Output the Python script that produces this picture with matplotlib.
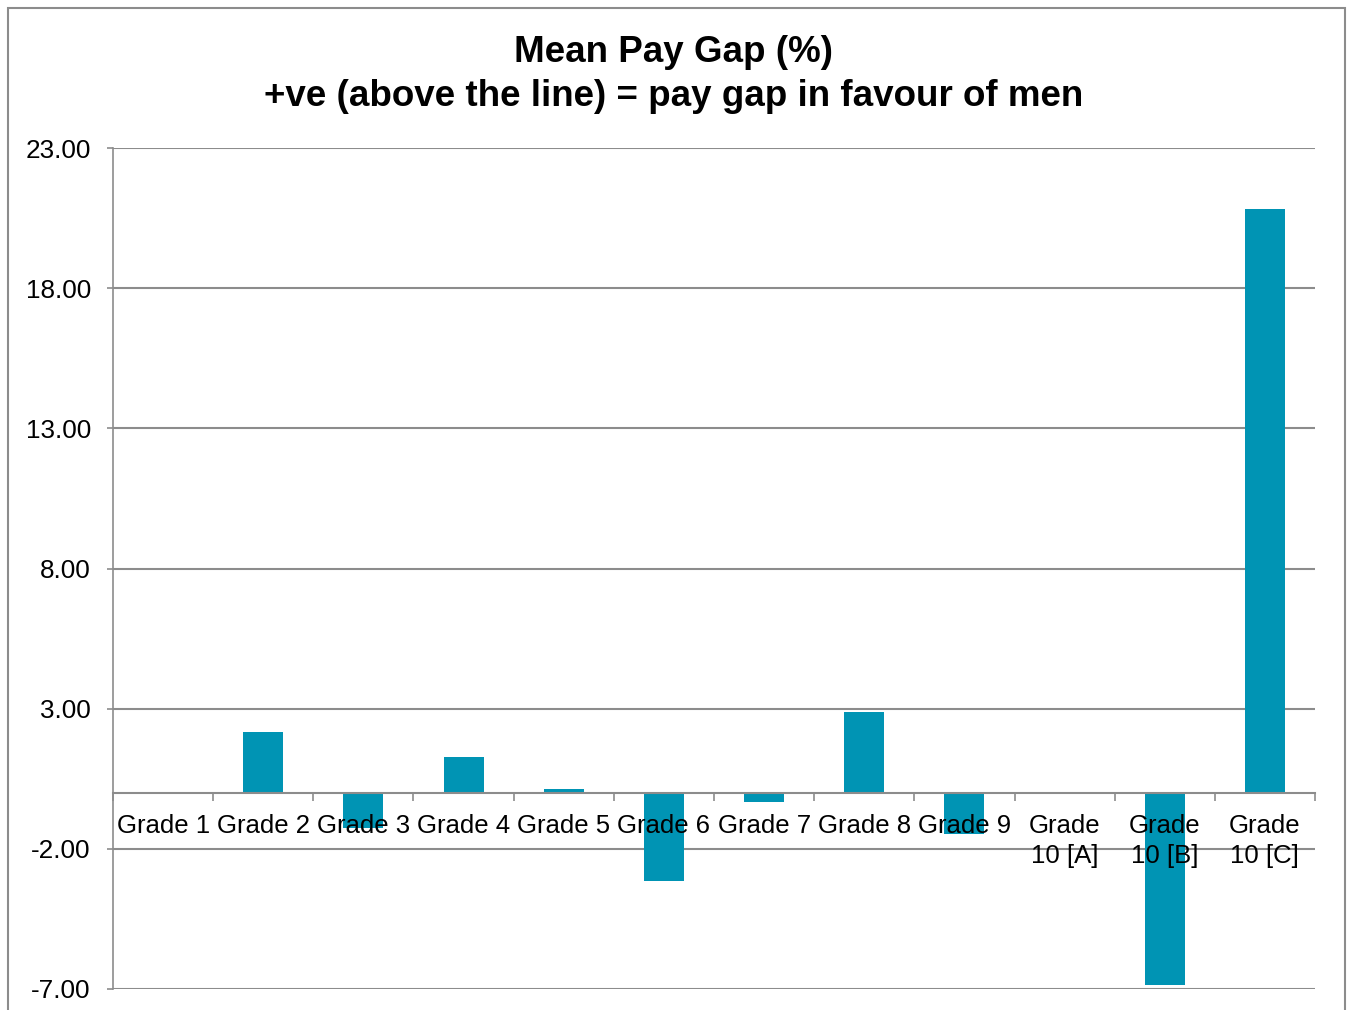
import matplotlib
matplotlib.use("Agg")
import matplotlib.pyplot as plt
from matplotlib.patches import Rectangle
import numpy as np

plt.rcParams['font.family'] = ['Liberation Sans', 'DejaVu Sans']

categories = ["Grade 1", "Grade 2", "Grade 3", "Grade 4", "Grade 5", "Grade 6",
              "Grade 7", "Grade 8", "Grade 9", "Grade\n10 [A]", "Grade\n10 [B]", "Grade\n10 [C]"]
values = [0.0, 2.18, -1.25, 1.26, 0.12, -3.15, -0.32, 2.89, -1.48, 0.0, -6.86, 20.81]
yticks = [-7, -2, 3, 8, 13, 18, 23]

W, H = 1347, 1010
fig = plt.figure(figsize=(W/100, H/100), dpi=100)
ax = fig.add_axes([113/W, 1-989/H, (1315-113)/W, (989-148)/H])

x = np.arange(len(categories))
ax.bar(x, values, width=0.4, color='#0094B4', zorder=2)

ax.set_xlim(-0.5, len(categories)-0.5)
ax.set_ylim(-7, 23)
ax.set_yticks(yticks)
ax.set_yticklabels([f"{v:.2f}" for v in yticks], fontsize=18.8)
ax.yaxis.grid(True, color='#8c8c8c', linewidth=1.5)
ax.set_axisbelow(True)
ax.xaxis.set_zorder(5)

for s in ['top', 'right']:
    ax.spines[s].set_visible(False)
ax.spines['left'].set_color('#8c8c8c')
ax.spines['left'].set_linewidth(1.2)
ax.spines['bottom'].set_position(('data', 0))
ax.spines['bottom'].set_color('#8c8c8c')
ax.spines['bottom'].set_linewidth(1.5)
ax.spines['bottom'].set_zorder(4)

ax.set_xticks(np.arange(-0.5, len(categories), 1.0))
ax.set_xticklabels([])
ax.set_xticks(x, minor=True)
ax.set_xticklabels(categories, minor=True, fontsize=18.5, linespacing=1.32, va='top')
ax.tick_params(axis='x', which='major', length=6, width=1.2, color='#8c8c8c', direction='out')
ax.tick_params(axis='x', which='minor', length=0, pad=15)
ax.tick_params(axis='y', length=4, width=1.2, color='#8c8c8c', pad=12)

fig.text(0.5, 1-53/H, "Mean Pay Gap (%)", ha='center', va='center', fontsize=26.5, fontweight='bold')
fig.text(0.5, 1-97/H, "+ve (above the line) = pay gap in favour of men", ha='center', va='center',
         fontsize=26.5, fontweight='bold')

fig.patches.append(Rectangle((8/W, -0.01), (1345-8)/W, 1-8/H+0.01, transform=fig.transFigure,
                             fill=False, edgecolor='#8c8c8c', linewidth=1.5))

fig.savefig("out.png", dpi=100)
